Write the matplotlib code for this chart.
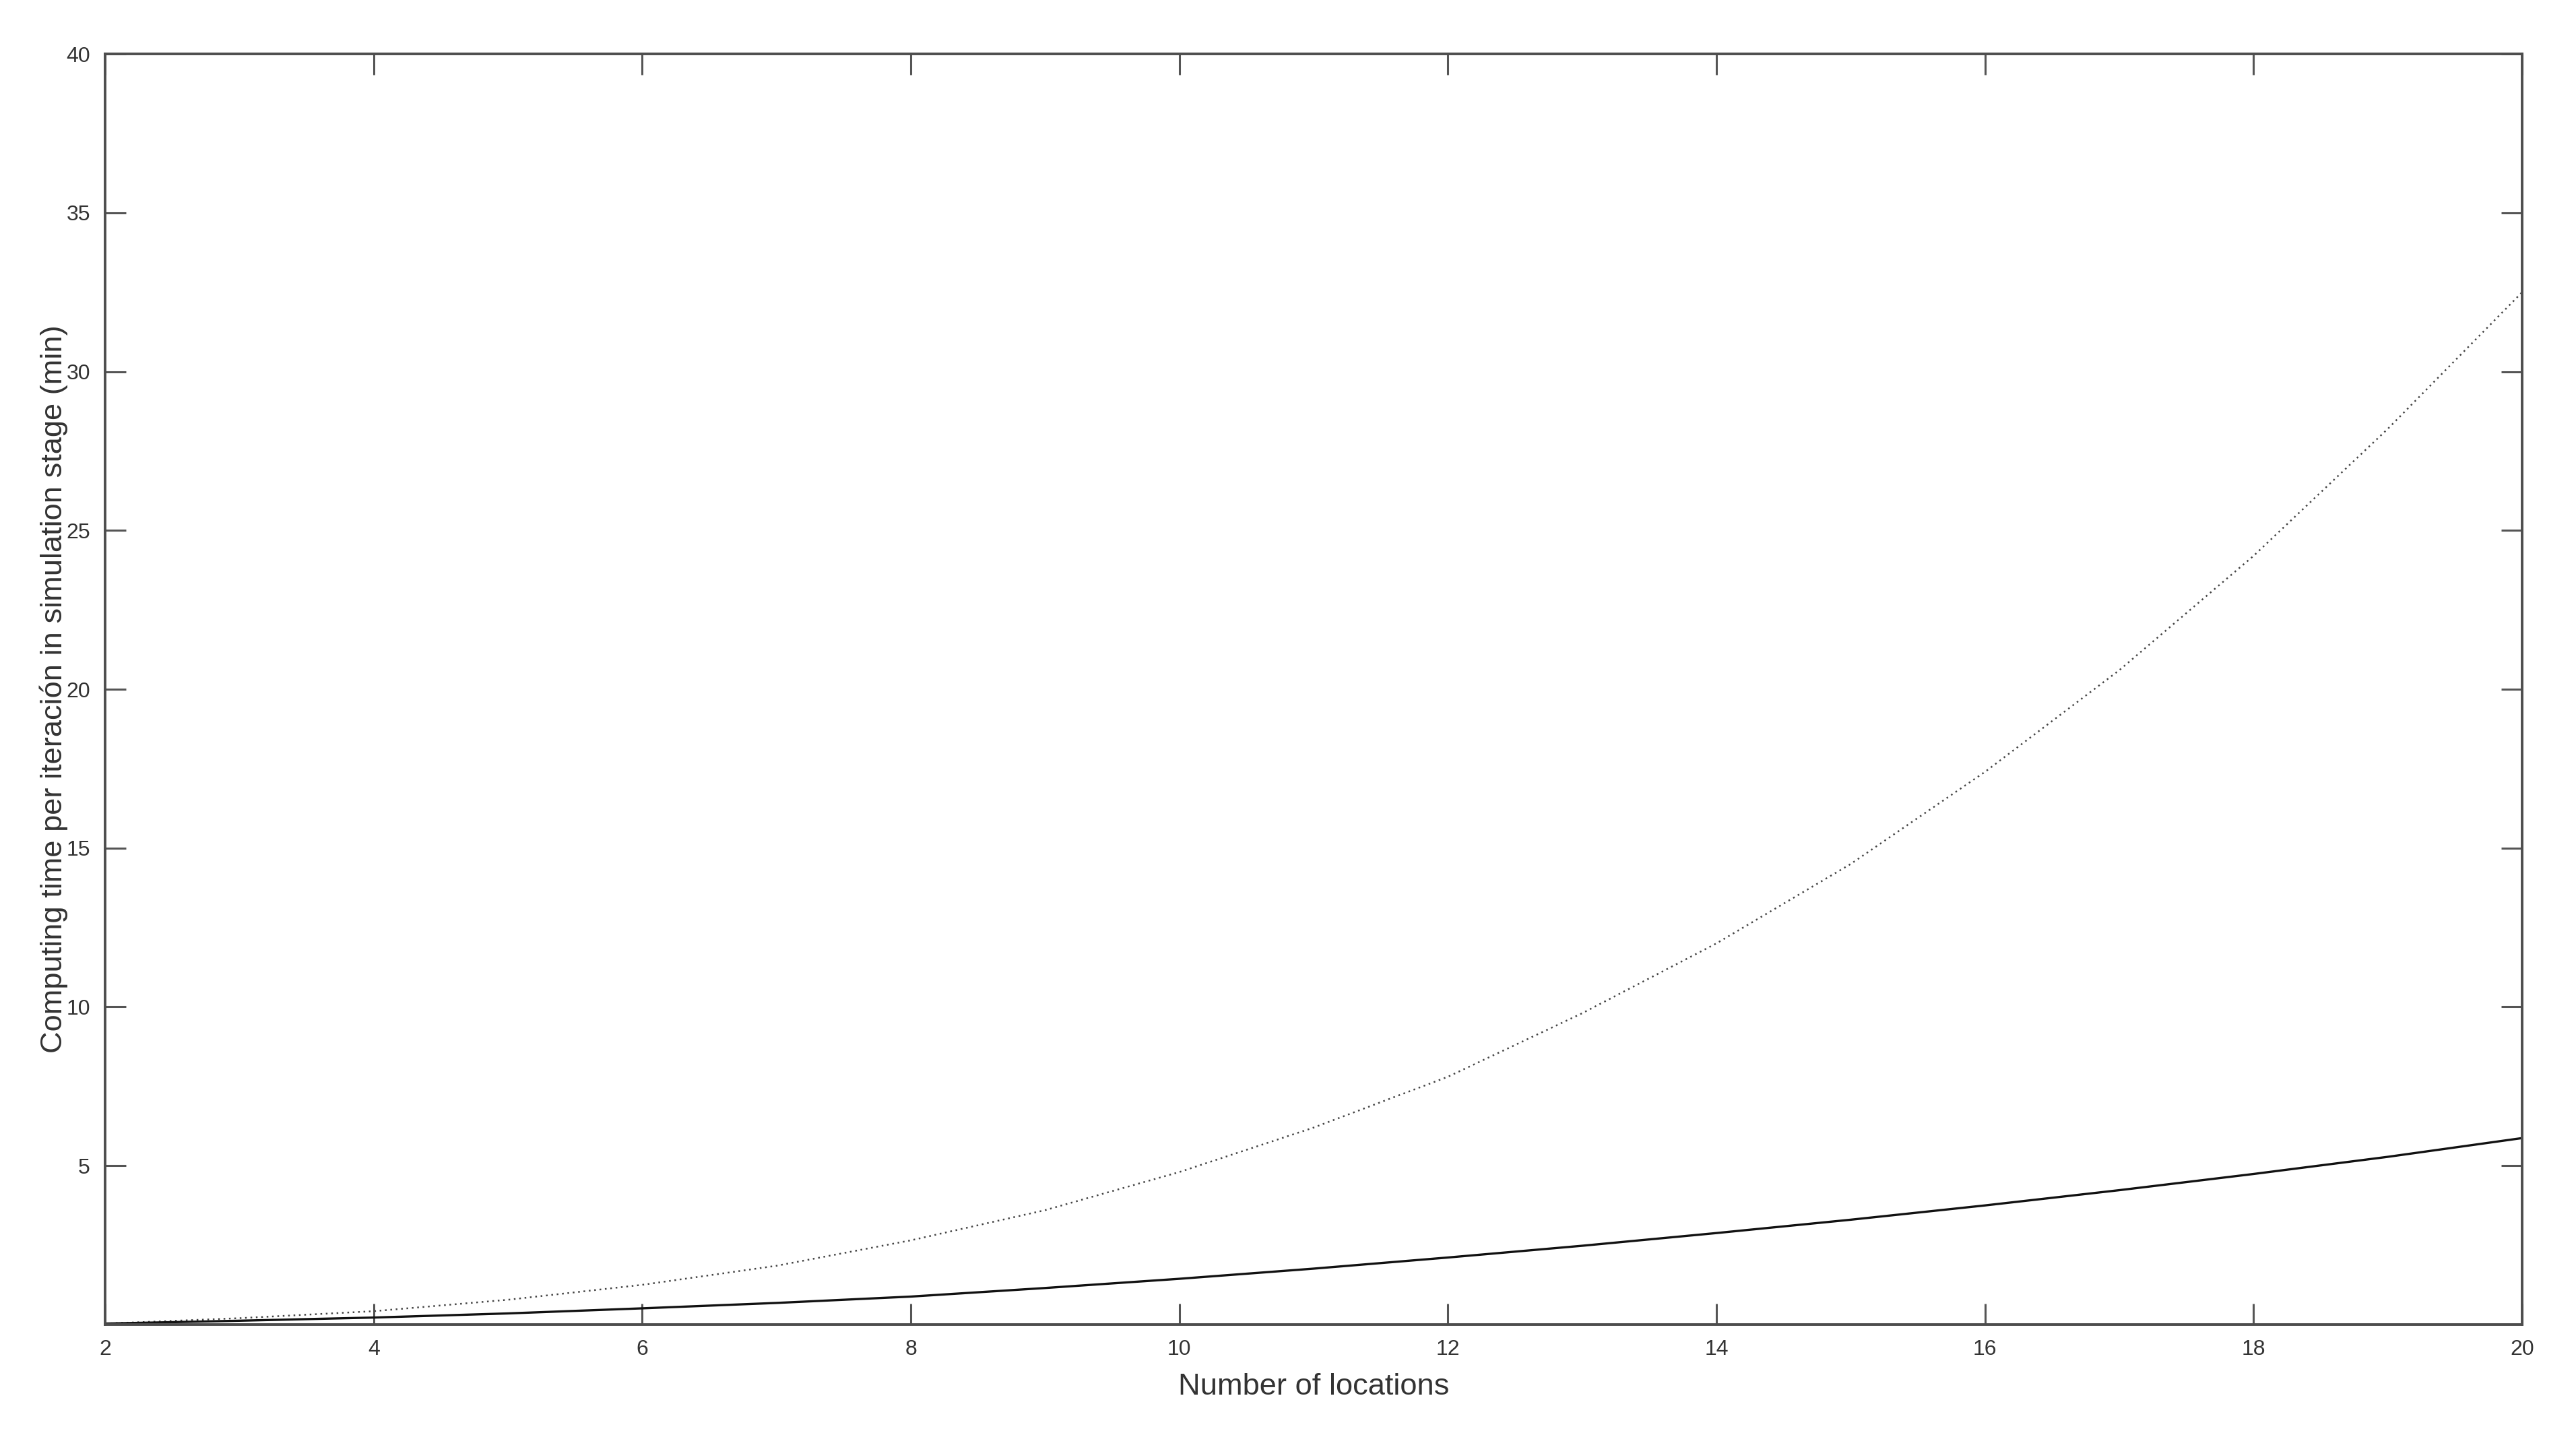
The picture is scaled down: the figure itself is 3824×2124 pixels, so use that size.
import matplotlib
matplotlib.use("Agg")
import matplotlib.pyplot as plt

# Data
locations = [2, 3, 4, 5, 6, 7, 8, 9, 10, 11, 12, 13, 14, 15, 16, 17, 18, 19, 20]
time_dotted = [0.03, 0.20, 0.42, 0.78, 1.25, 1.85, 2.65, 3.6, 4.8, 6.2, 7.8,
               9.8, 12.0, 14.5, 17.4, 20.6, 24.2, 28.2, 32.5]
time_solid = [0.03, 0.12, 0.22, 0.35, 0.51, 0.68, 0.88, 1.15, 1.44, 1.76, 2.11,
              2.48, 2.88, 3.30, 3.75, 4.23, 4.74, 5.28, 5.87]
x_ticks = [2, 4, 6, 8, 10, 12, 14, 16, 18, 20]
y_ticks = [5, 10, 15, 20, 25, 30, 35, 40]

plt.rcParams['font.family'] = ['Liberation Sans Narrow', 'Liberation Sans', 'DejaVu Sans']

fig = plt.figure(figsize=(19.12, 10.62), dpi=200)
ax = fig.add_axes([0.0408, 0.0744, 0.9383, 0.8879])

ax.plot(locations, time_dotted, color='#444444', lw=0.9, linestyle=(0, (1, 2.2)))
ax.plot(locations, time_solid, color='#111111', lw=1.2, linestyle='-')

ax.set_xlim(2, 20)
ax.set_ylim(0, 40)
ax.set_xticks(x_ticks)
ax.set_yticks(y_ticks)

for s in ax.spines.values():
    s.set_color('#4d4d4d')
    s.set_linewidth(1.4)

ax.tick_params(axis='both', which='both', direction='in', length=11, width=1.1,
               color='#555555', labelsize=11.5, labelcolor='#333333',
               top=True, right=True, pad=8)

ax.set_xlabel('Number of locations', fontsize=16.3, color='#333333', labelpad=7)
ax.set_ylabel('Computing time per iteración in simulation stage (min)', fontsize=16.3,
              color='#333333', labelpad=-1)

fig.savefig('out.png', dpi=200, facecolor='white')
